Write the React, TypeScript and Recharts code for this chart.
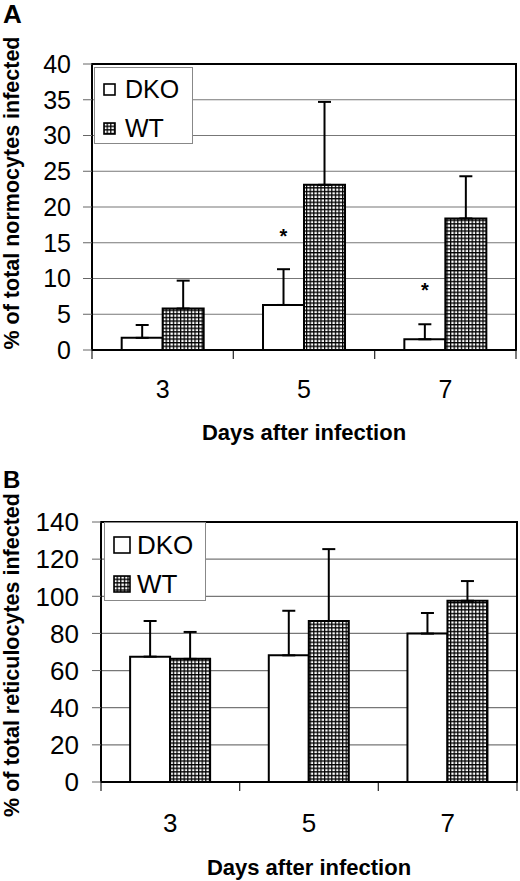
import React from "react";
import {
  BarChart,
  Bar,
  XAxis,
  YAxis,
  CartesianGrid,
  ErrorBar,
  Legend,
  LabelList,
  ReferenceArea,
  ReferenceLine,
  Label,
} from "recharts";

// ---- data ----
const days = ["3", "5", "7"];

// Panel A: % of total normocytes infected
const dkoNormo = [1.7, 6.3, 1.5];
const dkoNormoErr = [1.8, 5.0, 2.1];
const wtNormo = [5.8, 23.1, 18.4];
const wtNormoErr = [3.9, 11.6, 5.9];
const starNormo: (number | null)[] = [null, 16.5, 9.0];
const ticksNormo = [0, 5, 10, 15, 20, 25, 30, 35, 40];

// Panel B: % of total reticulocytes infected
const dkoRetic = [67.5, 68.2, 79.9];
const dkoReticErr = [19.2, 24.0, 11.1];
const wtRetic = [66.3, 86.7, 97.6];
const wtReticErr = [14.5, 38.7, 10.6];
const ticksRetic = [0, 20, 40, 60, 80, 100, 120, 140];

const FONT = "'Liberation Sans', Arial, sans-serif";

const buildRows = (
  dko: number[],
  dkoErr: number[],
  wt: number[],
  wtErr: number[],
  stars: (number | null)[] | null
) =>
  days.map((d, i) => ({
    day: d,
    DKO: dko[i],
    dkoErr: [0, dkoErr[i]],
    WT: wt[i],
    wtErr: [0, wtErr[i]],
    star: stars ? stars[i] : null,
  }));

const dataA = buildRows(dkoNormo, dkoNormoErr, wtNormo, wtNormoErr, starNormo);
const dataB = buildRows(dkoRetic, dkoReticErr, wtRetic, wtReticErr, null);

const GridPattern = ({ id }: { id: string }) => (
  <pattern id={id} width={3.6} height={3.6} patternUnits="userSpaceOnUse">
    <rect width={3.6} height={3.6} fill="#fff" />
    <path d="M0 0.6 H3.6 M0.6 0 V3.6" stroke="#000" strokeWidth={1.3} />
  </pattern>
);

const makeXTick = (fs: number) => (props: any) => {
  const { x, y, payload } = props;
  return (
    <text
      x={x}
      y={y}
      textAnchor="middle"
      dominantBaseline="central"
      fontSize={fs}
      fontFamily={FONT}
      fill="#000"
    >
      {payload.value}
    </text>
  );
};

// short tick mark below the x axis at a category boundary
const BoundaryTick = (props: any) => {
  const x = Number(props.x1);
  const yb = Math.max(Number(props.y1), Number(props.y2));
  if (isNaN(x) || isNaN(yb)) return <g />;
  return <line x1={x} x2={x} y1={yb} y2={yb + 9} stroke="#333" strokeWidth={1.3} />;
};

const boundaryLines = () => [
  ...days.map((d) => (
    <ReferenceLine
      key={"s" + d}
      x={d}
      position="start"
      ifOverflow="visible"
      shape={BoundaryTick}
    />
  )),
  <ReferenceLine
    key="end"
    x={days[days.length - 1]}
    position="end"
    ifOverflow="visible"
    shape={BoundaryTick}
  />,
];

const makeYTitle = (text: string, dy: number) => (props: any) => {
  const vb = props.viewBox || {};
  const cx = 12;
  const cy = (vb.y || 0) + (vb.height || 0) / 2 + dy;
  return (
    <text
      x={cx}
      y={cy}
      transform={`rotate(-90 ${cx} ${cy})`}
      textAnchor="middle"
      dominantBaseline="central"
      fontSize={21.5}
      fontWeight="bold"
      fontFamily={FONT}
      fill="#000"
    >
      {text}
    </text>
  );
};

const makeXTitle = (text: string, dy: number) => (props: any) => {
  const vb = props.viewBox || {};
  const cx = (vb.x || 0) + (vb.width || 0) / 2;
  const cy = (vb.y || 0) + dy;
  return (
    <text
      x={cx}
      y={cy}
      textAnchor="middle"
      dominantBaseline="central"
      fontSize={22}
      fontWeight="bold"
      fontFamily={FONT}
      fill="#000"
    >
      {text}
    </text>
  );
};

const makeLegend = (
  patternId: string,
  box: { w: number; h: number },
  sw: number,
  fs: number,
  gap: number
) => (props: any) => {
  const payload = props.payload || [];
  return (
    <div
      style={{
        width: box.w,
        height: box.h,
        boxSizing: "border-box",
        border: "1px solid #888",
        background: "#fff",
        padding: "2px 0 0 8px",
        fontFamily: FONT,
      }}
    >
      {payload.map((p: any) => (
        <div
          key={p.value}
          style={{ height: 39, display: "flex", alignItems: "center", fontSize: fs, lineHeight: 1 }}
        >
          <svg width={sw} height={sw} style={{ marginRight: gap, display: "block" }}>
            <defs>
              <GridPattern id={patternId} />
            </defs>
            <rect
              x={1}
              y={1}
              width={sw - 2}
              height={sw - 2}
              fill={p.value === "WT" ? `url(#${patternId})` : "#fff"}
              stroke="#000"
              strokeWidth={1.6}
            />
          </svg>
          <span>{p.value}</span>
        </div>
      ))}
    </div>
  );
};

const StarLabel = (props: any) => {
  const { x, y, width, height, index } = props;
  const s = starNormo[index];
  if (s == null) return null;
  const v = dkoNormo[index];
  const ppu = height / v;
  const base = y + height;
  const cy = base - s * ppu;
  return (
    <text
      x={x + width / 2}
      y={cy + 11}
      textAnchor="middle"
      fontSize={20}
      fontWeight="bold"
      fontFamily={FONT}
      fill="#000"
    >
      *
    </text>
  );
};

const PanelLetter = ({ letter, top, fs }: { letter: string; top: number; fs: number }) => (
  <div
    style={{
      position: "absolute",
      left: 3,
      top,
      fontFamily: FONT,
      fontWeight: "bold",
      fontSize: fs,
      lineHeight: 1,
    }}
  >
    {letter}
  </div>
);

export default function App() {
  return (
    <div style={{ position: "relative", width: 520, height: 881, background: "#fff" }}>
      <style>{"body{margin:0;background:#fff}"}</style>
      <PanelLetter letter="A" top={1} fs={26} />
      <PanelLetter letter="B" top={468} fs={24} />

      {/* Panel A */}
      <div style={{ position: "absolute", left: 0, top: 0 }}>
        <BarChart
          width={520}
          height={450}
          data={dataA}
          margin={{ top: 64, right: 4, bottom: 0, left: 0 }}
          barGap={0}
          barCategoryGap="21%"
        >
          <defs>
            <GridPattern id="gridA" />
          </defs>
          <CartesianGrid vertical={false} stroke="#777" strokeWidth={1.2} />
          <XAxis
            dataKey="day"
            height={100}
            axisLine={{ stroke: "#000", strokeWidth: 2 }}
            tickLine={false}
            tickSize={0}
            tickMargin={39}
            tick={makeXTick(25)}
            interval={0}
          >
            <Label content={makeXTitle("Days after infection", 82)} />
          </XAxis>
          <YAxis
            width={92}
            domain={[0, 40]}
            ticks={ticksNormo}
            interval={0}
            axisLine={{ stroke: "#000", strokeWidth: 2 }}
            tickLine={{ stroke: "#666", strokeWidth: 1 }}
            tickSize={9}
            tickMargin={12}
            tick={{ fontSize: 25, fill: "#000", fontFamily: FONT }}
          >
            <Label content={makeYTitle("% of total normocytes infected", -14)} />
          </YAxis>
          <ReferenceArea y1={0} y2={40} fill="none" stroke="#000" strokeWidth={2} ifOverflow="visible" />
          {boundaryLines()}
          <Legend
            layout="vertical"
            align="center"
            verticalAlign="middle"
            wrapperStyle={{ left: 94, top: 67, width: 99 }}
            content={makeLegend("gridLA", { w: 99, h: 77 }, 13, 25, 9)}
          />
          <Bar dataKey="DKO" name="DKO" fill="#fff" stroke="#000" strokeWidth={2} isAnimationActive={false}>
            <ErrorBar dataKey="dkoErr" width={6.5} stroke="#000" strokeWidth={2} isAnimationActive={false} />
            <LabelList dataKey="star" content={StarLabel} />
          </Bar>
          <Bar dataKey="WT" name="WT" fill="url(#gridA)" stroke="#000" strokeWidth={2} isAnimationActive={false}>
            <ErrorBar dataKey="wtErr" width={6.5} stroke="#000" strokeWidth={2} isAnimationActive={false} />
          </Bar>
        </BarChart>
      </div>

      {/* Panel B */}
      <div style={{ position: "absolute", left: 0, top: 440 }}>
        <BarChart
          width={520}
          height={441}
          data={dataB}
          margin={{ top: 82, right: 3, bottom: 0, left: 0 }}
          barGap={0}
          barCategoryGap="21%"
        >
          <defs>
            <GridPattern id="gridB" />
          </defs>
          <CartesianGrid vertical={false} stroke="#777" strokeWidth={1.2} />
          <XAxis
            dataKey="day"
            height={99}
            axisLine={{ stroke: "#000", strokeWidth: 2 }}
            tickLine={false}
            tickSize={0}
            tickMargin={41}
            tick={makeXTick(26)}
            interval={0}
          >
            <Label content={makeXTitle("Days after infection", 85)} />
          </XAxis>
          <YAxis
            width={101}
            domain={[0, 140]}
            ticks={ticksRetic}
            interval={0}
            axisLine={{ stroke: "#000", strokeWidth: 2 }}
            tickLine={{ stroke: "#666", strokeWidth: 1 }}
            tickSize={9}
            tickMargin={13}
            tick={{ fontSize: 26, fill: "#000", fontFamily: FONT }}
          >
            <Label content={makeYTitle("% of total reticulocytes infected", 3)} />
          </YAxis>
          <ReferenceArea y1={0} y2={140} fill="none" stroke="#000" strokeWidth={2} ifOverflow="visible" />
          {boundaryLines()}
          <Legend
            layout="vertical"
            align="center"
            verticalAlign="middle"
            wrapperStyle={{ left: 104, top: 82, width: 102 }}
            content={makeLegend("gridLB", { w: 102, h: 79 }, 18, 26, 6)}
          />
          <Bar dataKey="DKO" name="DKO" fill="#fff" stroke="#000" strokeWidth={2} isAnimationActive={false}>
            <ErrorBar dataKey="dkoErr" width={6.5} stroke="#000" strokeWidth={2} isAnimationActive={false} />
          </Bar>
          <Bar dataKey="WT" name="WT" fill="url(#gridB)" stroke="#000" strokeWidth={2} isAnimationActive={false}>
            <ErrorBar dataKey="wtErr" width={6.5} stroke="#000" strokeWidth={2} isAnimationActive={false} />
          </Bar>
        </BarChart>
      </div>
    </div>
  );
}
